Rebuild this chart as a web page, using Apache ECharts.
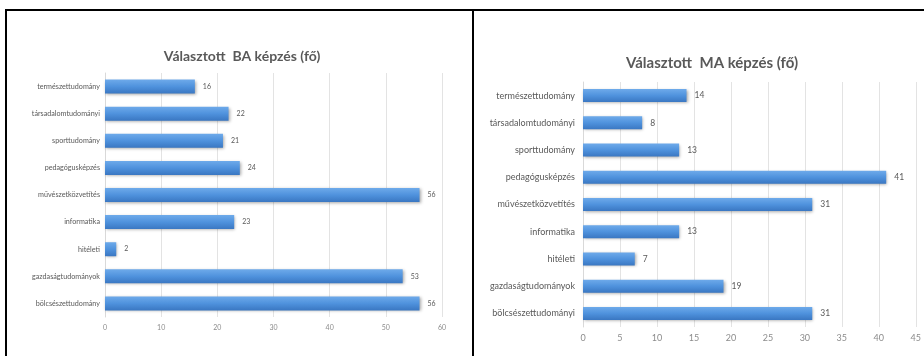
<!DOCTYPE html>
<html style="height: 100%">
    <head>
        <meta charset="utf-8">
    </head>
    <body style="height: 100%; margin: 0; background: #fff">
        <div id="container" style="height: 356px; width: 924px;"></div>

        <script type="text/javascript" src="https://cdn.jsdelivr.net/npm/echarts@6/dist/echarts.min.js"></script>
        <script type="text/javascript">
var dom = document.getElementById("container");
var myChart = echarts.init(dom);

// categories, top to bottom as in the picture
var baCategories = [
	"természettudomány",
	"társadalomtudományi",
	"sporttudomány",
	"pedagógusképzés",
	"művészetközvetítés",
	"informatika",
	"hitéleti",
	"gazdaságtudományok",
	"bölcsészettudomány"
];
var maCategories = [
	"természettudomány",
	"társadalomtudományi",
	"sporttudomány",
	"pedagógusképzés",
	"művészetközvetítés",
	"informatika",
	"hitéleti",
	"gazdaságtudományok",
	"bölcsészettudományi"
];

var baValues = [16, 22, 21, 24, 56, 23, 2, 53, 56];
var maValues = [14, 8, 13, 41, 31, 13, 7, 19, 31];

var baTitle = "Választott  BA képzés (fő)";
var maTitle = "Választott  MA képzés (fő)";

const FONT = "Lato, 'Open Sans', sans-serif";
const TEXT_COLOR = "#595959";

var barColor = new echarts.graphic.LinearGradient(0, 0, 0, 1, [
	{offset: 0, color: "#6eaaea"},
	{offset: 0.5, color: "#4f92dd"},
	{offset: 1, color: "#3a77c2"}
]);

function barSeries(idx, values, width, labelSize) {
	return {
		type: 'bar',
		xAxisIndex: idx,
		yAxisIndex: idx,
		barWidth: width,
		data: values,
		itemStyle: {
			color: barColor,
			shadowColor: "rgba(0,0,0,0.35)",
			shadowBlur: 3,
			shadowOffsetX: 1,
			shadowOffsetY: 1
		},
		label: {
			show: true,
			position: 'right',
			distance: 8,
			fontSize: labelSize,
			fontFamily: FONT,
			color: TEXT_COLOR
		}
	};
}

var option = {
	animation: false,
	title: [
		{
			text: baTitle,
			left: 237, top: 44, textAlign: 'center',
			textStyle: {fontSize: 14, fontWeight: 'bold', color: TEXT_COLOR, fontFamily: FONT}
		},
		{
			text: maTitle,
			left: 707, top: 51, textAlign: 'center',
			textStyle: {fontSize: 15, fontWeight: 'bold', color: TEXT_COLOR, fontFamily: FONT}
		}
	],
	grid: [
		{left: 105, top: 73, width: 337, height: 244},
		{left: 583, top: 82, width: 337, height: 245}
	],
	xAxis: [
		{
			gridIndex: 0, type: 'value', min: 0, max: 60, interval: 10,
			axisLine: {show: false}, axisTick: {show: false},
			splitLine: {lineStyle: {color: "#e3e3e3"}},
			axisLabel: {fontSize: 7, color: "#8c8c8c", fontFamily: FONT, margin: 7}
		},
		{
			gridIndex: 1, type: 'value', min: 0, max: 45, interval: 5,
			axisLine: {show: false}, axisTick: {show: false},
			splitLine: {lineStyle: {color: "#e3e3e3"}},
			axisLabel: {fontSize: 9, color: "#8c8c8c", fontFamily: FONT, margin: 7}
		}
	],
	yAxis: [
		{
			gridIndex: 0, type: 'category', inverse: true, data: baCategories,
			axisLine: {lineStyle: {color: "#d9d9d9"}}, axisTick: {show: false},
			axisLabel: {fontSize: 7.2, color: TEXT_COLOR, fontFamily: FONT, margin: 5}
		},
		{
			gridIndex: 1, type: 'category', inverse: true, data: maCategories,
			axisLine: {lineStyle: {color: "#d9d9d9"}}, axisTick: {show: false},
			axisLabel: {fontSize: 9, color: TEXT_COLOR, fontFamily: FONT, margin: 8}
		}
	],
	// frame lines around the two pasted charts
	graphic: [
		{type: 'line', shape: {x1: 5, y1: 10, x2: 924, y2: 10}, style: {stroke: '#000', lineWidth: 2}},
		{type: 'line', shape: {x1: 6, y1: 10, x2: 6, y2: 356}, style: {stroke: '#000', lineWidth: 2}},
		{type: 'line', shape: {x1: 473, y1: 10, x2: 473, y2: 356}, style: {stroke: '#000', lineWidth: 2}}
	],
	series: [
		barSeries(0, baValues, 14, 7),
		barSeries(1, maValues, 13, 8.5)
	]
};

myChart.setOption(option);
        </script>
    </body>
</html>
